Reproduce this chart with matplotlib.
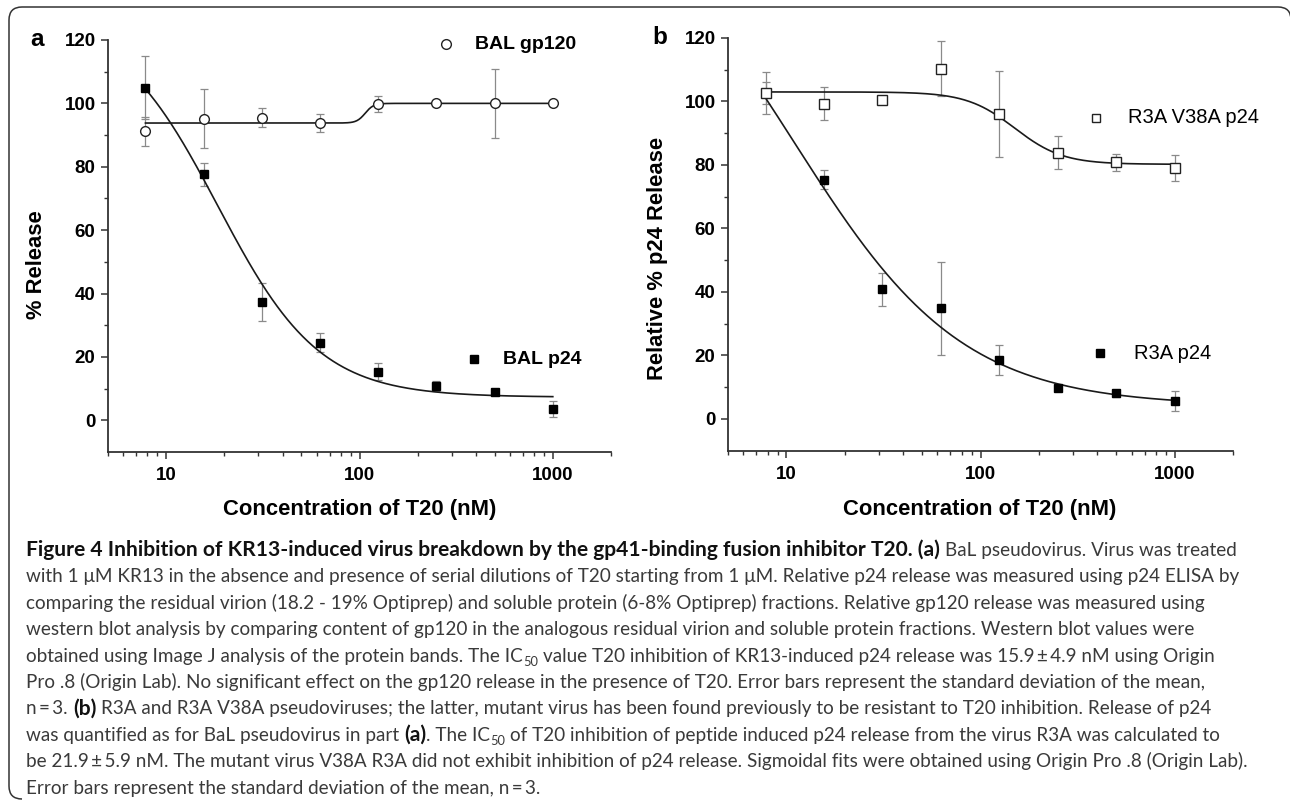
import numpy as np
import matplotlib
matplotlib.use("Agg")
import matplotlib.pyplot as plt
from matplotlib.path import Path
from matplotlib.patches import PathPatch

# ---------------- data ----------------
conc = [7.8125, 15.625, 31.25, 62.5, 125, 250, 500, 1000]

a_gp120 = [91.2, 95.2, 95.5, 93.9, 99.8, 100.0, 100.0, 100.0]
a_gp120_err = [4.6, 9.4, 3.0, 2.9, 2.4, 0.8, 11.0, 0.8]
a_p24 = [105.0, 77.6, 37.3, 24.4, 15.3, 10.7, 8.9, 3.5]
a_p24_err = [10.0, 3.7, 6.0, 3.0, 2.7, 1.6, 1.0, 2.5]

b_v38a = [102.6, 99.3, 100.5, 110.3, 96.1, 83.8, 80.9, 79.0]
b_v38a_err = [6.6, 5.2, 0.8, 8.6, 13.6, 5.2, 2.7, 4.0]
b_r3a = [102.6, 75.3, 40.8, 34.8, 18.5, 9.8, 8.0, 5.7]
b_r3a_err = [3.5, 3.0, 5.2, 14.6, 4.6, 1.0, 1.0, 3.1]

# sigmoidal (logistic) fit parameters: A1, A2, x0, p
fit_a_gp120 = (93.8, 100.0, 107.0, 20.0)
fit_a_p24 = (128.0, 7.3, 18.5, 1.65)
fit_b_v38a = (103.0, 80.2, 150.0, 3.5)
fit_b_r3a = (170.0, 4.0, 11.0, 1.0)

x_ticks = [10, 100, 1000]
x_ticklabels = ["10", "100", "1000"]
y_ticks = [0, 20, 40, 60, 80, 100, 120]

W, H = 1290, 807
CHART_FONT = "Liberation Sans"
CAP_FONT = ["Lato", "DejaVu Sans"]

fig = plt.figure(figsize=(W / 100, H / 100), dpi=100)
fig.patch.set_facecolor("white")


def logistic(x, A1, A2, x0, p):
    x = np.asarray(x, dtype=float)
    return A2 + (A1 - A2) / (1.0 + (x / x0) ** p)


def fx(px):
    return px / W


def fy(py):
    return 1 - py / H


def setup_axes(ax):
    ax.set_xscale("log")
    ax.set_xlim(5, 2000)
    ax.set_ylim(-10, 120)
    ax.patch.set_alpha(0)
    for s in ("top", "right"):
        ax.spines[s].set_visible(False)
    for s in ("left", "bottom"):
        ax.spines[s].set_color("#333333")
        ax.spines[s].set_linewidth(1.3)
    ax.set_xticks(x_ticks)
    ax.set_xticklabels(x_ticklabels)
    ax.xaxis.set_minor_locator(matplotlib.ticker.LogLocator(base=10, subs=np.arange(2, 10)))
    ax.xaxis.set_minor_formatter(matplotlib.ticker.NullFormatter())
    ax.set_yticks(y_ticks)
    ax.set_yticks([10, 30, 50, 70, 90, 110], minor=True)
    ax.tick_params(which="major", direction="out", length=5, width=1.1, color="#333333",
                   labelsize=13.5, pad=4)
    ax.tick_params(which="minor", direction="out", length=3, width=1.0, color="#333333")
    for lab in ax.get_xticklabels() + ax.get_yticklabels():
        lab.set_fontfamily(CHART_FONT)
        lab.set_fontweight("bold")
    ax.tick_params(axis="x", which="major", pad=6)


ERR_KW = dict(fmt="none", ecolor="#8a8a8a", elinewidth=0.9, capsize=3.2, capthick=0.9, zorder=2)

xs = np.logspace(np.log10(conc[0]), np.log10(conc[-1]), 400)

# ---------------- panel a ----------------
ax_a = fig.add_axes([fx(108), fy(452), 503 / W, 412 / H])
setup_axes(ax_a)
ax_a.plot(xs, logistic(xs, *fit_a_gp120), color="#1a1a1a", lw=1.2, zorder=3)
ax_a.plot(xs, logistic(xs, *fit_a_p24), color="#1a1a1a", lw=1.2, zorder=3)
ax_a.errorbar(conc, a_p24, yerr=a_p24_err, **ERR_KW)
ax_a.errorbar(conc, a_gp120, yerr=a_gp120_err, **ERR_KW)
ax_a.plot(conc, a_p24, "s", ms=6, mfc="black", mec="black", zorder=4)
ax_a.plot(conc, a_gp120, "o", ms=7, mfc="white", mec="#222222", mew=1.0, zorder=5)
# in-plot legends
ax_a.plot([280], [118.7], "o", ms=7, mfc="white", mec="#222222", mew=1.0, clip_on=False)
ax_a.text(396, 118.7, "BAL gp120", fontsize=14, fontweight="bold", family=CHART_FONT,
          va="center", ha="left")
ax_a.plot([392], [19.3], "s", ms=6, mfc="black", mec="black")
ax_a.text(553, 19.3, "BAL p24", fontsize=14, fontweight="bold", family=CHART_FONT,
          va="center", ha="left")

# ---------------- panel b ----------------
ax_b = fig.add_axes([fx(728), fy(450.5), 505 / W, 412.5 / H])
setup_axes(ax_b)
ax_b.plot(xs, logistic(xs, *fit_b_v38a), color="#1a1a1a", lw=1.2, zorder=3)
ax_b.plot(xs, logistic(xs, *fit_b_r3a), color="#1a1a1a", lw=1.2, zorder=3)
ax_b.errorbar(conc, b_r3a, yerr=b_r3a_err, **ERR_KW)
ax_b.errorbar(conc, b_v38a, yerr=b_v38a_err, **ERR_KW)
ax_b.plot(conc, b_r3a, "s", ms=6, mfc="black", mec="black", zorder=4)
ax_b.plot(conc, b_v38a, "s", ms=6.5, mfc="white", mec="#222222", mew=1.0, zorder=5)
ax_b.plot([396], [94.8], "s", ms=6, mfc="white", mec="#222222", mew=1.0)
ax_b.text(573, 94.8, "R3A V38A p24", fontsize=14.5, family=CHART_FONT, va="center", ha="left")
ax_b.plot([411], [20.6], "s", ms=6, mfc="black", mec="black")
ax_b.text(615, 20.6, "R3A p24", fontsize=14.5, family=CHART_FONT, va="center", ha="left")

# axis titles and panel letters
LBL = dict(fontsize=15.8, fontweight="bold", family=CHART_FONT, ha="center", va="center")
fig.text(fx(37), fy(265), "% Release", rotation=90, **LBL)
fig.text(fx(658), fy(258), "Relative % p24 Release", rotation=90, **LBL)
fig.text(fx(360), fy(510), "Concentration of T20 (nM)", **LBL)
fig.text(fx(980), fy(510), "Concentration of T20 (nM)", **LBL)
fig.text(fx(37), fy(40), "a", fontsize=17.5, fontweight="bold", family=CHART_FONT,
         ha="center", va="center")
fig.text(fx(660), fy(38), "b", fontsize=17.5, fontweight="bold", family=CHART_FONT,
         ha="center", va="center")

# ---------------- caption ----------------
caption = [
    [("Figure 4 Inhibition of KR13-induced virus breakdown by the gp41-binding fusion inhibitor T20. (a)", "b"),
     (" BaL pseudovirus. Virus was treated", "n")],
    [("with 1 \u03bcM KR13 in the absence and presence of serial dilutions of T20 starting from 1 \u03bcM. "
      "Relative p24 release was measured using p24 ELISA by", "n")],
    [("comparing the residual virion (18.2 - 19% Optiprep) and soluble protein (6-8% Optiprep) fractions. "
      "Relative gp120 release was measured using", "n")],
    [("western blot analysis by comparing content of gp120 in the analogous residual virion and soluble "
      "protein fractions. Western blot values were", "n")],
    [("obtained using Image J analysis of the protein bands. The IC", "n"), ("50", "s"),
     (" value T20 inhibition of KR13-induced p24 release was 15.9\u2009\u00b1\u20094.9 nM using Origin", "n")],
    [("Pro .8 (Origin Lab). No significant effect on the gp120 release in the presence of T20. "
      "Error bars represent the standard deviation of the mean,", "n")],
    [("n\u2009=\u20093.", "n"), (" (b)", "b"),
     (" R3A and R3A V38A pseudoviruses; the latter, mutant virus has been found previously to be "
      "resistant to T20 inhibition. Release of p24", "n")],
    [("was quantified as for BaL pseudovirus in part", "n"), (" (a)", "b"), (". The IC", "n"), ("50", "s"),
     (" of T20 inhibition of peptide induced p24 release from the virus R3A was calculated to", "n")],
    [("be 21.9\u2009\u00b1\u20095.9 nM. The mutant virus V38A R3A did not exhibit inhibition of p24 release. "
      "Sigmoidal fits were obtained using Origin Pro .8 (Origin Lab).", "n")],
    [("Error bars represent the standard deviation of the mean, n\u2009=\u20093.", "n")],
]

renderer = fig.canvas.get_renderer()
CAP_X0 = 26
CAP_Y0 = 556
CAP_DY = 26.4


def text_props(style, size_n, size_b):
    if style == "b":
        return dict(fontsize=size_b, fontweight="bold", color="#111111", family=CAP_FONT)
    if style == "s":
        return dict(fontsize=size_n * 0.68, fontweight="normal", color="#3a3a3a", family=CAP_FONT)
    return dict(fontsize=size_n, fontweight="normal", color="#3a3a3a", family=CAP_FONT)


def space_width(props):
    t1 = fig.text(0, 0, "x x", **props)
    t2 = fig.text(0, 0, "xx", **props)
    w = t1.get_window_extent(renderer).width - t2.get_window_extent(renderer).width
    t1.remove()
    t2.remove()
    return w


def layout(size_n, size_b, indices):
    artists = []
    ends = {}
    sw_cache = {}
    for i in indices:
        line = caption[i]
        x = CAP_X0
        y = CAP_Y0 + i * CAP_DY
        for txt, style in line:
            props = text_props(style, size_n, size_b)
            if style not in sw_cache:
                sw_cache[style] = space_width(props)
            sw = sw_cache[style]
            lead = len(txt) - len(txt.lstrip(" "))
            trail = len(txt) - len(txt.rstrip(" "))
            x += lead * sw
            body = txt.strip(" ")
            dy = 4 if style == "s" else 0
            t = fig.text(fx(x), fy(y + dy), body, ha="left", va="baseline", **props)
            bb = t.get_window_extent(renderer)
            x = bb.x1 + trail * sw
            artists.append(t)
        ends[i] = x
    return artists, ends


def clear(arts):
    for a in arts:
        a.remove()


base = 13.0
# fit normal weight with line 9 (ends at ~1242 px)
arts, ends = layout(base, base, [8])
clear(arts)
size_n = base * (1242 - CAP_X0) / (ends[8] - CAP_X0)
# fit bold weight so that line 1 ends at ~1240 px
size_b = size_n
for _ in range(3):
    arts, ends = layout(size_n, size_b, [0])
    clear(arts)
    size_b *= (1240 - CAP_X0) / (ends[0] - CAP_X0)
layout(size_n, size_b, list(range(len(caption))))

# ---------------- border ----------------
r = 13
L, T, B, R = 9, 7, 799, 1291
verts = [(L + r, B), (L, B), (L, B - r), (L, T + r), (L, T), (L + r, T), (R - r, T), (R, T), (R, T + r), (R, T + 40)]
codes = [Path.MOVETO, Path.CURVE3, Path.CURVE3, Path.LINETO, Path.CURVE3, Path.CURVE3,
         Path.LINETO, Path.CURVE3, Path.CURVE3, Path.LINETO]
verts_f = [(fx(vx), fy(vy)) for vx, vy in verts]
fig.patches.append(PathPatch(Path(verts_f, codes), transform=fig.transFigure, fill=False,
                             edgecolor="#333333", lw=1.1, clip_on=False))

fig.savefig("out.png", dpi=100)
